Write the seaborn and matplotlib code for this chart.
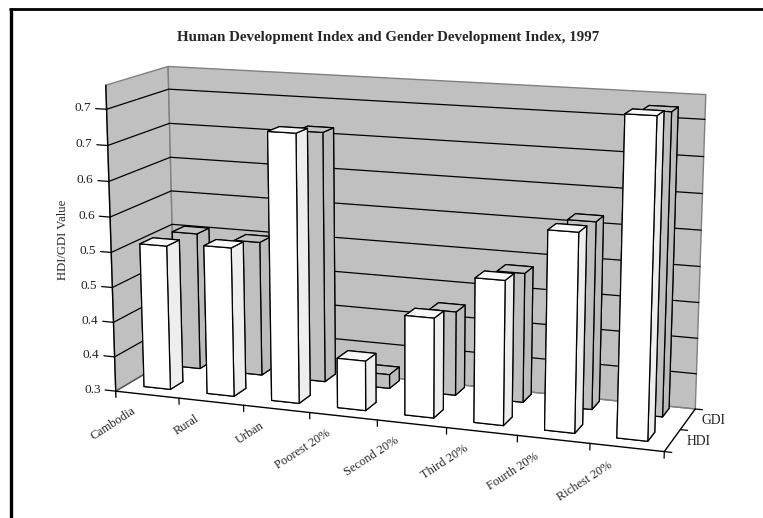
import matplotlib
matplotlib.use("Agg")
import matplotlib.pyplot as plt
from matplotlib.lines import Line2D
from mpl_toolkits.mplot3d import proj3d
from mpl_toolkits.mplot3d.art3d import Poly3DCollection
import seaborn as sns

# Dados
categorias = ["Cambodia", "Rural", "Urban", "Poorest 20%", "Second 20%", "Third 20%", "Fourth 20%", "Richest 20%"]
hdi = [0.507, 0.512, 0.677, 0.37, 0.439, 0.499, 0.571, 0.728]
gdi = [0.501, 0.496, 0.66, 0.32, 0.42, 0.483, 0.562, 0.716]
series = ["HDI", "GDI"]
z_ticks = [0.30, 0.35, 0.40, 0.45, 0.50, 0.55, 0.60, 0.65, 0.70]
z_labels = ["0.3", "0.4", "0.4", "0.5", "0.5", "0.6", "0.6", "0.7", "0.7"]

sns.set_theme(style="white")
plt.rcParams["font.family"] = ["Liberation Serif", "DejaVu Serif"]

W, H = 763, 518
Z_MIN, Z_MAX = 0.30, 0.733
X_MAX, Y_MAX = len(categorias), 2
LARGURA = 0.42
PROF = 0.42
CINZA = "#c0c0c0"
cores_hdi = ["#ffffff", "#f8f8f8", "#ffffff", "#ffffff", "#eeeeee", "#eeeeee"]
cores_gdi = [CINZA, "#c4c4c4", CINZA, CINZA, "#bcbcbc", "#bcbcbc"]

fig = plt.figure(figsize=(W / 100, H / 100), dpi=100, facecolor="white")
ax = fig.add_axes([66.1 / W, -64.9 / H, 653 / W, 653 / H], projection="3d", computed_zorder=False)
ax.set_axis_off()

# Paredes e piso
parede_fundo = [(0, Y_MAX, Z_MIN), (X_MAX, Y_MAX, Z_MIN), (X_MAX, Y_MAX, Z_MAX), (0, Y_MAX, Z_MAX)]
parede_esq = [(0, 0, Z_MIN), (0, Y_MAX, Z_MIN), (0, Y_MAX, Z_MAX), (0, 0, Z_MAX)]
ax.add_collection3d(Poly3DCollection([parede_fundo, parede_esq], facecolor=CINZA, edgecolor="#808080", linewidth=1.0, zorder=1))

# Linhas de grade
for z in z_ticks[1:]:
    ax.plot([0, 0, X_MAX], [0, Y_MAX, Y_MAX], [z, z, z], color="black", lw=0.9, zorder=2)
    ax.plot([-0.17, 0], [0, 0], [z, z], color="black", lw=0.9, zorder=2)

# Barras
for i in range(len(categorias)):
    ax.bar3d(i + 0.25, 1.48, Z_MIN, 0.40, PROF, gdi[i] - Z_MIN, color=cores_gdi, shade=False,
             edgecolor="black", linewidth=0.9, zorder=3 + i)
for i in range(len(categorias)):
    ax.bar3d(i + 0.28, 0.35, Z_MIN, LARGURA, PROF, hdi[i] - Z_MIN, color=cores_hdi, shade=False,
             edgecolor="black", linewidth=0.9, zorder=20 + i)

# Eixos
ax.plot([0, X_MAX, X_MAX], [0, 0, Y_MAX], [Z_MIN] * 3, color="black", lw=1.0, zorder=40)
ax.plot([0, 0], [0, Y_MAX], [Z_MIN, Z_MIN], color="#555555", lw=1.0, zorder=2)
ax.plot([0, X_MAX], [Y_MAX, Y_MAX], [Z_MIN, Z_MIN], color="#808080", lw=1.0, zorder=2)
ax.plot([0, 0], [0, 0], [Z_MIN - 0.009, Z_MAX], color="black", lw=1.0, zorder=40)
ax.plot([-0.17, 0], [0, 0], [Z_MIN, Z_MIN], color="black", lw=0.9, zorder=40)
for i in range(1, X_MAX + 1):
    ax.plot([i, i], [0, 0], [Z_MIN - 0.009, Z_MIN], color="black", lw=0.9, zorder=40)
for j in range(Y_MAX + 1):
    ax.plot([X_MAX, X_MAX + 0.1], [j, j], [Z_MIN, Z_MIN], color="black", lw=0.9, zorder=40)

ax.set_xlim(0, X_MAX)
ax.set_ylim(0, Y_MAX)
ax.set_zlim(Z_MIN, Z_MAX)
ax.view_init(elev=13.05, azim=-70.33)
ax.set_box_aspect((1, 0.2452, 0.5529))
ax.set_proj_type("persp", focal_length=0.5869)


def texto(x, y, z, s, **kw):
    # Text3D ignora rotation, entao projeta o ponto e escreve em 2D
    px, py, _ = proj3d.proj_transform(x, y, z, ax.get_proj())
    ax.text2D(px, py, s, transform=ax.transData, **kw)


# Textos dos eixos
for z, rotulo in zip(z_ticks, z_labels):
    texto(-0.24, 0, z, rotulo, ha="right", va="center", fontsize=9.6, color="#222222")
for i, nome in enumerate(categorias):
    texto(i + 0.29, 0, Z_MIN - 0.025, nome, rotation=33, rotation_mode="anchor", ha="right", va="center", fontsize=8.9)
for j, nome in enumerate(series):
    texto(X_MAX + 0.19, j + 0.5, Z_MIN, nome, ha="left", va="center", fontsize=9.8, color="#222222")

fig.text(388 / W, 1 - 38 / H, "Human Development Index and Gender Development Index, 1997",
         ha="center", va="center", fontsize=10.8, fontweight="bold")
fig.text(63 / W, 1 - 240 / H, "HDI/GDI Value", rotation=90, ha="center", va="center", fontsize=9.2)

# Moldura preta (topo e esquerda)
fig.add_artist(Line2D([10.5 / W, 10.5 / W], [0, 1 - 7.5 / H], color="black", lw=2.4, solid_capstyle="butt"))
fig.add_artist(Line2D([9 / W, 1], [1 - 8.8 / H, 1 - 8.8 / H], color="black", lw=2.0, solid_capstyle="butt"))

fig.savefig("out.png", dpi=100)
